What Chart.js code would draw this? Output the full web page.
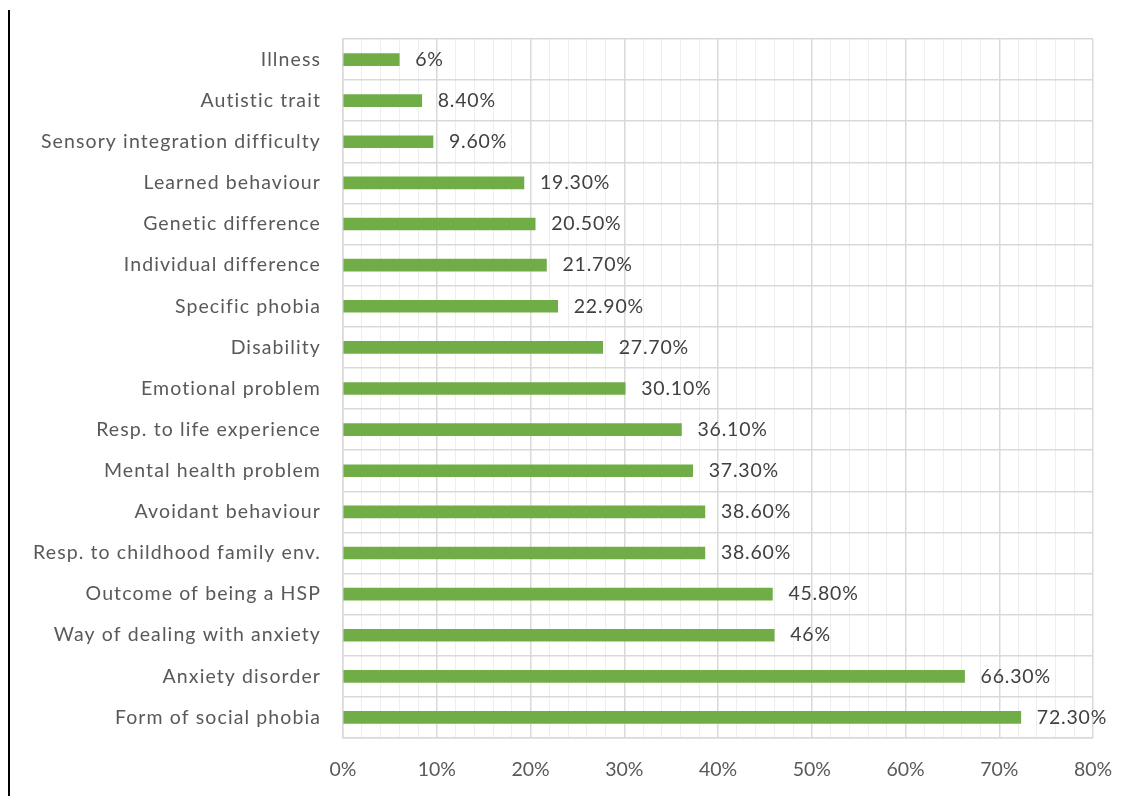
<!DOCTYPE html>
<html>
<head>
<meta charset="utf-8">
<script src="https://cdn.jsdelivr.net/npm/chart.js@4"></script>
<style>
  html, body { margin: 0; padding: 0; background: #ffffff; }
  #wrap { position: relative; width: 1137px; height: 796px; }
  #edge { position: absolute; left: 8px; top: 10px; width: 2px; height: 786px; background: #000; }
  canvas { position: absolute; left: 0; top: 0; }
</style>
</head>
<body>
<div id="wrap">
  <canvas id="c" width="1137" height="796"></canvas>
  <div id="edge"></div>
</div>
<script>
// Perceived causes, share of respondents (%)
const categories = [
  "Illness",
  "Autistic trait",
  "Sensory integration difficulty",
  "Learned behaviour",
  "Genetic difference",
  "Individual difference",
  "Specific phobia",
  "Disability",
  "Emotional problem",
  "Resp. to life experience",
  "Mental health problem",
  "Avoidant behaviour",
  "Resp. to childhood family env.",
  "Outcome of being a HSP",
  "Way of dealing with anxiety",
  "Anxiety disorder",
  "Form of social phobia"
];
const shares = [6, 8.4, 9.6, 19.3, 20.5, 21.7, 22.9, 27.7, 30.1, 36.1, 37.3, 38.6, 38.6, 45.8, 46, 66.3, 72.3];
const axisTicks = [0, 10, 20, 30, 40, 50, 60, 70, 80];

const FONT = "Lato, 'Open Sans', sans-serif";

function pctText(v) {
  return Number.isInteger(v) ? v + "%" : v.toFixed(2) + "%";
}

// Category names to the left of the plot, and each bar's value past its end
const textLayer = {
  id: "textLayer",
  afterDatasetsDraw(chart) {
    const ctx = chart.ctx;
    const yScale = chart.scales.y;
    const meta = chart.getDatasetMeta(0);
    ctx.save();
    ctx.textBaseline = "middle";

    ctx.font = "19.5px " + FONT;
    ctx.letterSpacing = "1.1px";
    ctx.fillStyle = "#595959";
    ctx.textAlign = "right";
    categories.forEach((name, i) => {
      ctx.fillText(name, chart.chartArea.left - 22, yScale.getPixelForValue(i));
    });

    ctx.letterSpacing = "0.8px";
    ctx.fillStyle = "#404040";
    ctx.textAlign = "left";
    meta.data.forEach((bar, i) => {
      ctx.fillText(pctText(shares[i]), bar.x + 16, bar.y);
    });
    ctx.restore();
  }
};

new Chart(document.getElementById("c"), {
  type: "bar",
  data: {
    labels: categories,
    datasets: [{
      data: shares,
      backgroundColor: "#70AD47",
      borderWidth: 0,
      barThickness: 12
    }]
  },
  options: {
    indexAxis: "y",
    responsive: false,
    animation: false,
    plugins: {
      legend: { display: false },
      tooltip: { enabled: false }
    },
    layout: { padding: { top: 39, right: 44, bottom: 0, left: 10 } },
    scales: {
      x: {
        min: 0,
        max: 80,
        afterFit(scale) { scale.height = 58; },
        ticks: {
          stepSize: 2,
          autoSkip: false,
          maxRotation: 0,
          padding: 20,
          color: "#595959",
          font: { family: FONT, size: 19.5 },
          callback: (v) => axisTicks.includes(v) ? v + "%" : ""
        },
        grid: {
          drawTicks: false,
          color: (c) => axisTicks.includes(c.tick && c.tick.value) ? "#d9d9d9" : "#eeeeee",
          lineWidth: (c) => axisTicks.includes(c.tick && c.tick.value) ? 1.5 : 1
        },
        border: { color: "#d9d9d9", width: 1.5 }
      },
      y: {
        afterFit(scale) { scale.width = 333; },
        ticks: { display: false },
        grid: {
          drawTicks: false,
          offset: true,
          color: "#d9d9d9",
          lineWidth: 1.5
        },
        border: { color: "#d9d9d9", width: 1.5 }
      }
    }
  },
  plugins: [textLayer]
});
</script>
</body>
</html>
